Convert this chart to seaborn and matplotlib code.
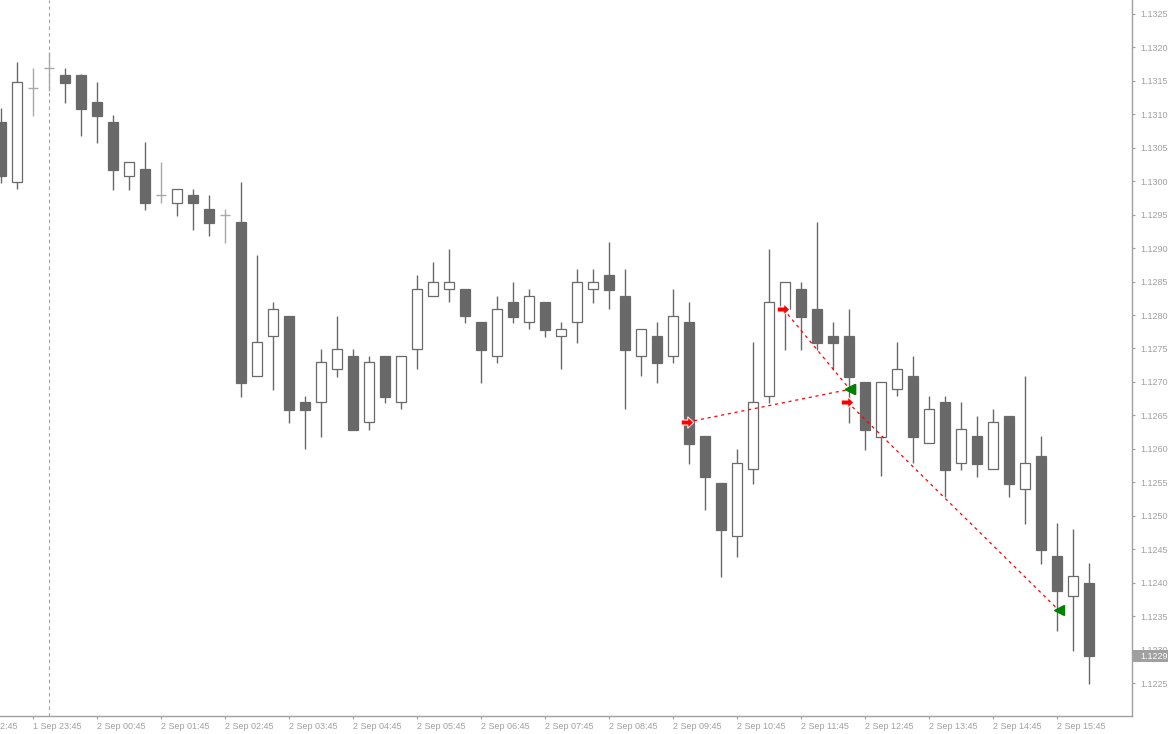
import numpy as np
import pandas as pd
import seaborn as sns
import matplotlib
matplotlib.use('Agg')
import matplotlib.pyplot as plt
import matplotlib.transforms as mtransforms
from matplotlib.path import Path
from matplotlib.patches import Rectangle

sns.set_theme(style='white')
plt.rcParams['font.family'] = ['Liberation Sans', 'DejaVu Sans']

# 15 minute EURUSD-style bars, 1 Sep 23:15 .. 2 Sep 16:15
opens = [1.13089, 1.12999, 1.13139, 1.13169, 1.13159, 1.13159, 1.13118, 1.13089, 1.13008, 1.13018,
         1.12979, 1.12967, 1.12979, 1.12959, 1.12950, 1.12939, 1.12709, 1.12769, 1.12799, 1.12670,
         1.12670, 1.12719, 1.12739, 1.12640, 1.12739, 1.12670, 1.12749, 1.12829, 1.12839, 1.12839,
         1.12790, 1.12739, 1.12820, 1.12790, 1.12820, 1.12769, 1.12790, 1.12839, 1.12860, 1.12829,
         1.12739, 1.12769, 1.12739, 1.12790, 1.12619, 1.12549, 1.12470, 1.12570, 1.12679, 1.12809,
         1.12839, 1.12809, 1.12769, 1.12769, 1.12700, 1.12618, 1.12689, 1.12709, 1.12609, 1.12670,
         1.12579, 1.12619, 1.12570, 1.12649, 1.12540, 1.12589, 1.12440, 1.12380, 1.12399]
highs = [1.13110, 1.13178, 1.13169, 1.13193, 1.13169, 1.13160, 1.13148, 1.13099, 1.13029, 1.13059,
         1.13029, 1.12988, 1.12988, 1.12979, 1.12959, 1.12999, 1.12890, 1.12820, 1.12799, 1.12679,
         1.12749, 1.12799, 1.12749, 1.12739, 1.12739, 1.12739, 1.12860, 1.12879, 1.12899, 1.12839,
         1.12790, 1.12829, 1.12849, 1.12839, 1.12820, 1.12790, 1.12869, 1.12869, 1.12909, 1.12869,
         1.12779, 1.12790, 1.12839, 1.12820, 1.12619, 1.12549, 1.12600, 1.12760, 1.12899, 1.12849,
         1.12849, 1.12939, 1.12790, 1.12809, 1.12700, 1.12700, 1.12760, 1.12739, 1.12679, 1.12679,
         1.12670, 1.12649, 1.12660, 1.12649, 1.12709, 1.12619, 1.12489, 1.12480, 1.12429]
lows = [1.12997, 1.12988, 1.13098, 1.13135, 1.13117, 1.13068, 1.13057, 1.12987, 1.12987, 1.12957,
        1.12967, 1.12948, 1.12927, 1.12918, 1.12908, 1.12678, 1.12709, 1.12688, 1.12639, 1.12600,
        1.12618, 1.12707, 1.12628, 1.12628, 1.12669, 1.12660, 1.12719, 1.12829, 1.12820, 1.12788,
        1.12698, 1.12728, 1.12788, 1.12779, 1.12767, 1.12719, 1.12758, 1.12818, 1.12809, 1.12660,
        1.12709, 1.12698, 1.12728, 1.12577, 1.12509, 1.12408, 1.12438, 1.12547, 1.12669, 1.12748,
        1.12748, 1.12748, 1.12718, 1.12639, 1.12598, 1.12559, 1.12679, 1.12579, 1.12609, 1.12528,
        1.12568, 1.12558, 1.12570, 1.12528, 1.12488, 1.12428, 1.12328, 1.12298, 1.12249]
closes = [1.13008, 1.13148, 1.13139, 1.13169, 1.13147, 1.13108, 1.13098, 1.13017, 1.13029, 1.12967,
          1.12979, 1.12988, 1.12967, 1.12938, 1.12950, 1.12698, 1.12760, 1.12809, 1.12658, 1.12658,
          1.12730, 1.12749, 1.12628, 1.12730, 1.12678, 1.12739, 1.12839, 1.12849, 1.12849, 1.12799,
          1.12748, 1.12809, 1.12797, 1.12829, 1.12778, 1.12779, 1.12849, 1.12849, 1.12837, 1.12748,
          1.12779, 1.12728, 1.12799, 1.12607, 1.12558, 1.12479, 1.12579, 1.12670, 1.12820, 1.12849,
          1.12797, 1.12758, 1.12758, 1.12707, 1.12628, 1.12700, 1.12719, 1.12618, 1.12660, 1.12568,
          1.12630, 1.12577, 1.12640, 1.12547, 1.12579, 1.12449, 1.12387, 1.12410, 1.12290]

time_labels = ['1 Sep 23:45', '2 Sep 00:45', '2 Sep 01:45', '2 Sep 02:45', '2 Sep 03:45',
               '2 Sep 04:45', '2 Sep 05:45', '2 Sep 06:45', '2 Sep 07:45', '2 Sep 08:45',
               '2 Sep 09:45', '2 Sep 10:45', '2 Sep 11:45', '2 Sep 12:45', '2 Sep 13:45',
               '2 Sep 14:45', '2 Sep 15:45']
first_label_bar = 2
cut_label = '1 Sep 22:45'
day_start_bar = 3

# trades: entry bar/price -> exit bar/price
trade_open_bar = [42.9, 48.9, 52.9]
trade_open_price = [1.12640, 1.12809, 1.12670]
trade_close_bar = [53.05, 53.05, 66.1]
trade_close_price = [1.12689, 1.12689, 1.12359]

df = pd.DataFrame({'open': opens, 'high': highs, 'low': lows, 'close': closes})
df['bar'] = np.arange(len(df))

dark = '#696969'
light = '#a9a9a9'
axis_grey = '#a0a0a0'
fs = 6.5

fig = plt.figure(figsize=(11.68, 7.34), dpi=100)
ax = fig.add_axes([0, 18 / 734, 1132 / 1168, 716 / 734])

doji = df[df['open'] == df['close']]
rest = df[df['open'] != df['close']]
bull = rest[rest['close'] > rest['open']]
bear = rest[rest['close'] < rest['open']]

# wicks
ax.vlines(rest['bar'], rest['low'], rest['high'], color=dark, lw=1, zorder=2)
ax.vlines(doji['bar'], doji['low'], doji['high'], color=light, lw=1, zorder=2)
ax.hlines(doji['open'], doji['bar'] - 0.34, doji['bar'] + 0.34, color=light, lw=1, zorder=2)

# bodies
w = 0.62
ax.bar(bull['bar'], bull['close'] - bull['open'], bottom=bull['open'], width=w,
       facecolor='white', edgecolor=dark, linewidth=0.9, zorder=3)
ax.bar(bear['bar'], bear['open'] - bear['close'], bottom=bear['close'], width=w,
       facecolor=dark, edgecolor=dark, linewidth=0.9, zorder=3)

# day separator
ax.axvline(day_start_bar, color=axis_grey, lw=0.8, ls=(0, (3, 3)), zorder=1)

# trade lines and arrows
arrow = Path([(-1, -0.4), (0.05, -0.4), (0.05, -0.9), (1, 0), (0.05, 0.9), (0.05, 0.4),
              (-1, 0.4), (-1, -0.4)], closed=True)
for x0, p0, x1, p1 in zip(trade_open_bar, trade_open_price, trade_close_bar, trade_close_price):
    ax.plot([x0, x1], [p0, p1], color='red', lw=0.9, ls=(0, (2.5, 3)), zorder=4)
    ax.plot(x0, p0, marker=arrow, ms=9, color='red', mec='white', mew=0.7, zorder=6)
    ax.plot(x1, p1, marker='<', ms=6.5, color='#008000', mec='#008000', zorder=6)

ax.set_xlim(-1 / 16, 1131 / 16)
ax.set_ylim(1.122007, 1.132709)

# axes styling
for s in ['top', 'left']:
    ax.spines[s].set_visible(False)
for s in ['right', 'bottom']:
    ax.spines[s].set_color(axis_grey)
    ax.spines[s].set_linewidth(1)

yt = np.round(np.arange(1.1225, 1.13251, 0.0005), 4)
ax.set_yticks(yt)
ax.set_yticklabels([f'{v:.4f}' for v in yt])
ax.yaxis.tick_right()
ax.tick_params(axis='y', right=True, left=False, direction='out', length=2.5, width=0.8,
               color=axis_grey, labelcolor=axis_grey, labelsize=fs, pad=3.2)

xt = np.arange(first_label_bar, first_label_bar + 4 * len(time_labels), 4)
ax.set_xticks(xt)
ax.set_xticklabels(time_labels)
for t in ax.get_xticklabels():
    t.set_horizontalalignment('left')
ax.tick_params(axis='x', bottom=True, direction='out', length=2.5, width=0.8,
               color=axis_grey, labelcolor=axis_grey, labelsize=fs, pad=1.5)

# label cut off at the left edge
trans = mtransforms.blended_transform_factory(ax.transData, ax.transAxes)
trans = trans + mtransforms.ScaledTranslation(0, -4 / 72, fig.dpi_scale_trans)
ax.text(first_label_bar - 4, 0, cut_label, transform=trans, ha='left', va='top',
        fontsize=fs, color=axis_grey, clip_on=False)

# current price box
last = closes[-1]
bt = mtransforms.blended_transform_factory(ax.transAxes, ax.transData)
box_h = 12 / 716 * (1.132709 - 1.122007)
ax.add_patch(Rectangle((1133 / 1132, last - box_h / 2), 40 / 1132, box_h, transform=bt,
                       facecolor=axis_grey, edgecolor='none', clip_on=False, zorder=10))
ax.text(1140 / 1132, last, f'{last:.4f}', transform=bt, ha='left', va='center',
        fontsize=fs, color='white', clip_on=False, zorder=11)

fig.savefig('out.png', dpi=100)
